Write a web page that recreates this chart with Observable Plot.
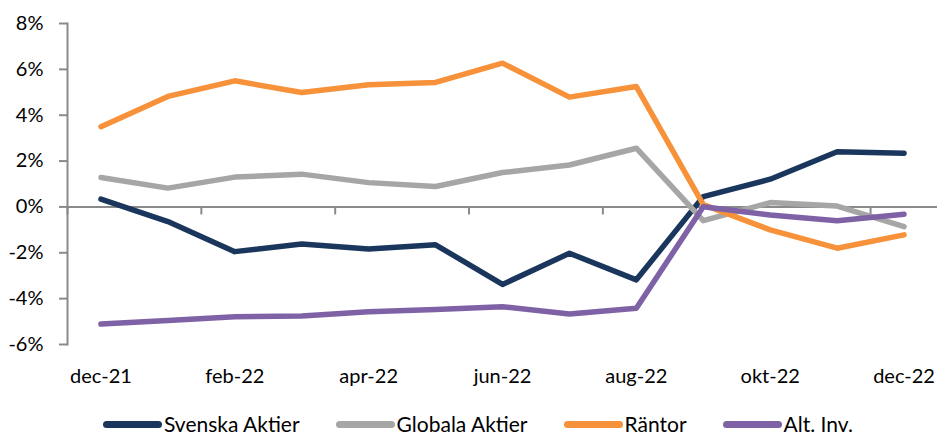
<!DOCTYPE html>
<html>
<head>
<meta charset="utf-8">
<script src="https://cdn.jsdelivr.net/npm/d3@7"></script>
<script src="https://cdn.jsdelivr.net/npm/@observablehq/plot@0.6"></script>
<style>
  body { margin: 0; background: #fff; font-family: Lato, sans-serif; }
  #chart { width: 937px; height: 435px; position: relative; overflow: hidden; }
  #chart svg { display: block; }
  .legend { position: relative; height: 40px; padding-left: 103px; box-sizing: border-box; font-size: 21px; line-height: 20px; color: #000; display: flex; align-items: flex-start; }
  .item { display: flex; align-items: center; margin-right: 36px; margin-top: 19px; height: 20px; }
  .sw { width: 59px; height: 7px; border-radius: 4px; margin-right: 2px; }
</style>
</head>
<body>
<div id="chart"></div>
<script>
const months = ["dec-21","jan-22","feb-22","mar-22","apr-22","maj-22","jun-22","jul-22","aug-22","sep-22","okt-22","nov-22","dec-22"];
const seriesNames = ["Svenska Aktier","Globala Aktier","Räntor","Alt. Inv."];
const colors = ["#1B365D","#A6A6A6","#F7923A","#7F62A6"];
const svenska = [0.34, -0.64, -1.95, -1.62, -1.83, -1.65, -3.38, -2.02, -3.18, 0.45, 1.21, 2.41, 2.34];
const globala = [1.28, 0.82, 1.30, 1.43, 1.06, 0.89, 1.50, 1.83, 2.56, -0.60, 0.19, 0.04, -0.86];
const rantor  = [3.50, 4.82, 5.50, 4.99, 5.33, 5.43, 6.27, 4.79, 5.25, 0.10, -1.00, -1.80, -1.22];
const altinv  = [-5.11, -4.95, -4.79, -4.76, -4.57, -4.47, -4.35, -4.67, -4.42, 0.01, -0.35, -0.60, -0.32];
const yTicks = [-6, -4, -2, 0, 2, 4, 6, 8];
const xLabelIdx = [0, 2, 4, 6, 8, 10, 12];

const allValues = [svenska, globala, rantor, altinv];
const data = allValues.flatMap((vals, s) => vals.map((v, i) => ({i, v, s: seriesNames[s]})));
const xTickPos = xLabelIdx.map(i => i - 0.5);

const axisGray = "#8A8A8A";
const plot = Plot.plot({
  width: 937,
  height: 395,
  marginLeft: 67,
  marginRight: 0,
  marginTop: 23,
  marginBottom: 51,
  style: {fontFamily: "Lato, sans-serif", fontSize: "20px", color: "#000", background: "#fff"},
  x: {domain: [-0.5, months.length - 0.5]},
  y: {domain: [-6, 8]},
  color: {domain: seriesNames, range: colors},
  marks: [
    Plot.frame({anchor: "left", stroke: axisGray, strokeWidth: 2}),
    Plot.ruleY([0], {stroke: axisGray, strokeWidth: 2}),
    Plot.ruleX(xTickPos, {y1: 0, y2: -0.35, stroke: axisGray, strokeWidth: 2}),
    Plot.axisY({ticks: yTicks, tickFormat: d => d + "%", tickSize: 8, tickPadding: 16, stroke: axisGray, strokeWidth: 2, fill: "#000", label: null}),
    Plot.axisX({ticks: xLabelIdx, tickFormat: i => months[i], tickSize: 0, tickPadding: 24, fill: "#000", label: null}),
    Plot.line(data, {x: "i", y: "v", z: "s", stroke: "s", strokeWidth: 5.5, strokeLinejoin: "round", strokeLinecap: "round"})
  ]
});
const chart = document.getElementById("chart");
chart.appendChild(plot);

const legend = document.createElement("div");
legend.className = "legend";
seriesNames.forEach((n, k) => {
  const it = document.createElement("div");
  it.className = "item";
  const sw = document.createElement("div");
  sw.className = "sw";
  sw.style.background = colors[k];
  const t = document.createElement("span");
  t.textContent = n;
  it.appendChild(sw);
  it.appendChild(t);
  legend.appendChild(it);
});
chart.appendChild(legend);
</script>
</body>
</html>
